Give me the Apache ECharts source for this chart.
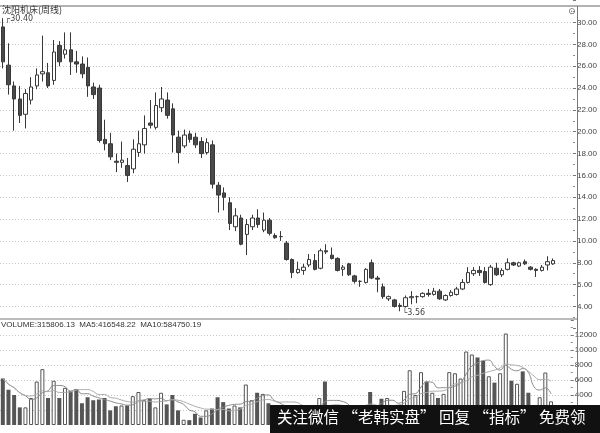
<!DOCTYPE html>
<html><head><meta charset="utf-8">
<script src="https://cdn.jsdelivr.net/npm/echarts@6/dist/echarts.min.js"></script>
<style>html,body{margin:0;padding:0;background:#fff}#c{width:600px;height:433px}</style>
</head><body><div id="c"></div>
<script>
const chartTitle = '沈阳机床(周线)';
const volumeTitle = 'VOLUME:315806.13  MA5:416548.22  MA10:584750.19';
const watermark = '关注微信 “老韩实盘” 回复 “指标” 免费领';
const priceTickLabels = ['4.00','6.00','8.00','10.00','12.00','14.00','16.00','18.00','20.00','22.00','24.00','26.00','28.00','30.00'];
const volumeTickLabels = ['0','2000','4000','6000','8000','10000','12000'];

const opens = [29.6,26.1,24.2,23.0,21.6,22.9,24.2,25.3,25.4,24.7,
  27.9,27.1,27.5,26.4,26.2,25.9,24.1,24.0,19.3,18.9,
  17.3,17.2,16.9,16.6,18.1,18.8,20.8,20.4,22.2,22.9,
  22.1,19.5,18.7,19.8,19.5,19.1,18.1,18.8,15.1,14.4,
  13.5,11.3,12.1,10.6,11.3,12.1,11.0,11.9,10.5,10.4,
  9.8,8.3,7.1,7.3,7.8,8.2,7.5,9.1,8.7,8.4,
  7.4,7.9,6.8,6.3,6.2,8.0,6.6,5.8,4.7,4.6,
  4.1,4.0,4.8,4.9,4.9,5.2,5.1,5.4,4.6,5.0,
  5.1,5.6,6.2,7.0,7.3,7.2,6.0,7.5,6.9,7.4,
  8.0,7.7,8.1,7.6,7.4,7.3,7.8,7.9];
const closes = [26.4,24.3,23.0,21.5,23.5,24.1,25.2,25.5,24.2,27.3,
  26.4,27.5,26.4,26.2,25.3,24.2,23.4,19.2,18.9,17.7,
  17.2,17.4,16.0,18.4,18.9,20.3,20.6,22.4,23.0,21.5,
  19.7,18.1,19.7,19.3,18.8,18.0,19.0,15.2,14.2,14.0,
  11.6,12.3,9.7,11.5,12.1,11.5,11.9,10.7,10.3,10.4,
  8.3,7.1,7.4,7.6,8.3,7.4,9.1,9.0,8.4,7.3,
  7.6,6.9,6.3,6.3,7.4,6.6,6.5,4.9,4.9,4.0,
  4.0,4.8,4.9,4.9,5.2,5.1,5.4,4.7,5.0,5.3,
  5.6,6.2,7.1,7.3,7.1,6.2,7.6,6.9,7.3,8.0,
  7.8,8.0,7.9,7.4,7.3,7.6,8.1,8.2];
const highs = [30.4,28.1,24.6,24.2,23.9,25.0,25.8,28.8,26.3,28.4,
  28.3,29.1,29.1,27.4,26.9,26.8,24.5,24.3,21.1,19.9,
  18.0,19.1,17.6,19.3,20.1,21.5,22.9,23.6,24.1,23.6,
  22.6,20.1,20.2,20.1,19.9,19.5,19.4,19.2,15.4,14.9,
  14.0,13.0,12.4,12.0,12.4,12.9,12.6,12.1,10.7,10.9,
  10.0,8.4,8.1,7.9,8.8,8.8,9.3,9.7,9.4,8.5,
  7.8,8.0,6.9,6.4,7.5,8.3,6.8,6.1,5.0,4.7,
  4.3,5.0,5.4,5.0,5.3,5.6,5.7,5.6,5.1,5.5,
  5.8,6.5,7.6,7.6,7.7,7.6,7.8,8.0,7.5,8.4,
  8.1,8.1,8.3,7.7,7.5,7.8,8.6,8.4];
const lows = [25.8,23.4,20.1,20.8,20.3,22.5,23.9,24.6,24.0,24.3,
  26.0,26.7,25.2,25.4,24.9,23.2,23.0,19.0,18.3,17.4,
  16.3,16.7,15.4,16.2,17.7,18.0,20.3,20.2,21.8,21.2,
  18.1,17.1,18.5,19.0,18.5,17.6,17.9,14.8,12.6,12.8,
  11.0,10.9,9.6,8.7,11.0,11.2,10.8,10.5,10.2,10.0,
  8.2,6.6,7.0,6.9,7.6,7.3,7.4,8.8,8.3,7.2,
  6.8,6.8,6.1,5.8,6.1,6.5,5.3,4.7,4.5,3.9,
  3.56,3.9,4.2,4.3,4.8,4.9,5.0,4.6,4.5,4.9,
  5.0,5.5,6.1,6.8,6.8,6.1,5.9,6.8,6.7,7.3,
  7.7,7.6,7.8,7.3,6.7,7.2,7.3,7.8];
// weekly volume, in the units of the volume axis
const volumes = [6200,4700,4000,2350,2350,3600,5800,7450,3600,5900,
  3600,4950,4550,4800,2900,3700,3300,3400,3600,1950,
  2500,2600,2600,3850,4400,3300,3500,2350,4300,2750,
  4000,1950,700,650,1500,1000,1950,2200,3700,3050,
  2200,2600,2350,5400,3300,4300,4150,2900,1800,1500,
  2400,2600,1800,1600,2200,2300,3600,5800,2500,2200,
  1700,2000,1800,1500,2500,4400,2400,3500,3600,2600,
  2400,4550,7300,4000,7050,5800,4300,3600,4150,7050,
  6900,6200,9800,9400,9000,8550,6500,5650,6900,12200,
  5900,5500,7150,4300,2670,3700,7000,3158];

const n = opens.length;
const weeks = opens.map((_, i) => 'W' + (i + 1));
const candle = opens.map((o, i) => [o, closes[i], lows[i], highs[i]]);
const up = opens.map((o, i) => closes[i] >= o);
function ma(k) {
  return volumes.map((v, i) => {
    const a = volumes.slice(Math.max(0, i - k + 1), i + 1);
    return +(a.reduce((s, x) => s + x, 0) / a.length).toFixed(1);
  });
}
let iMax = 0, iMin = 0;
highs.forEach((h, i) => { if (h > highs[iMax]) iMax = i; });
lows.forEach((l, i) => { if (l < lows[iMin]) iMin = i; });

const FONT = 'Liberation Sans';
const axisCommon = {
  position: 'right',
  axisLine: { show: false },
  axisTick: { show: true, length: 3, lineStyle: { color: '#777' } },
  minorTick: { show: true, splitNumber: 2, length: 2, lineStyle: { color: '#888' } },
  splitLine: { show: true, showMinLine: false, showMaxLine: false, lineStyle: { color: '#c6c6c6', type: [1, 2] } }
};

const chart = echarts.init(document.getElementById('c'));
chart.setOption({
  animation: false,
  backgroundColor: '#fff',
  grid: [
    { left: 0, width: 577, top: 0.7, height: 327.6 },
    { left: 0, width: 577, top: 320, height: 105 }
  ],
  xAxis: [0, 1].map(g => ({
    type: 'category', gridIndex: g, data: weeks, max: n + 2, boundaryGap: true,
    axisLine: { show: false }, axisTick: { show: false }, axisLabel: { show: false }, splitLine: { show: false }
  })),
  yAxis: [
    Object.assign({}, axisCommon, {
      gridIndex: 0, type: 'value', min: 2, max: 32, interval: 2,
      axisLabel: { fontSize: 8, color: '#444', margin: 4, fontFamily: FONT,
        formatter: v => { const s = v.toFixed(2); return priceTickLabels.includes(s) ? s : ''; } }
    }),
    Object.assign({}, axisCommon, {
      gridIndex: 1, type: 'value', min: 0, max: 14000, interval: 2000,
      axisLabel: { fontSize: 8, color: '#444', margin: 4, fontFamily: FONT,
        formatter: v => { const s = String(v); return volumeTickLabels.includes(s) ? s : ''; } }
    })
  ],
  series: [
    {
      type: 'candlestick', xAxisIndex: 0, yAxisIndex: 0, data: candle, barWidth: 4,
      itemStyle: { color: '#fff', color0: '#4a4a4a', borderColor: '#383838', borderColor0: '#383838', borderColorDoji: '#383838', borderWidth: 1 },
      markPoint: {
        symbol: 'circle', symbolSize: 1, itemStyle: { color: 'rgba(0,0,0,0)' },
        label: { show: true, position: 'right', distance: 2, fontSize: 8, color: '#444', fontFamily: 'DejaVu Sans' },
        data: [
          { coord: [iMax, highs[iMax]], value: highs[iMax], label: { formatter: p => '┌' + p.value.toFixed(2), offset: [0, 1] } },
          { coord: [iMin, lows[iMin]], value: lows[iMin], label: { formatter: p => '└' + p.value.toFixed(2), offset: [0, 2] } }
        ]
      }
    },
    {
      type: 'bar', xAxisIndex: 1, yAxisIndex: 1, barWidth: 4,
      data: volumes.map((v, i) => ({ value: v, itemStyle: up[i] ? { color: '#fff', borderColor: '#555', borderWidth: 1 } : { color: '#555' } }))
    },
    { type: 'line', xAxisIndex: 1, yAxisIndex: 1, data: ma(5), symbol: 'none', smooth: true, lineStyle: { color: '#8a8a8a', width: 1 } },
    { type: 'line', xAxisIndex: 1, yAxisIndex: 1, data: ma(10), symbol: 'none', smooth: true, lineStyle: { color: '#aaaaaa', width: 1 } }
  ],
  graphic: [
    { type: 'line', shape: { x1: 0, y1: 6, x2: 600, y2: 6 }, style: { stroke: '#666', lineWidth: 1 }, z: 50 },
    { type: 'line', shape: { x1: 0, y1: 319, x2: 577, y2: 319 }, style: { stroke: '#777', lineWidth: 1 }, z: 50 },
    { type: 'line', shape: { x1: 577.5, y1: 6, x2: 577.5, y2: 433 }, style: { stroke: '#777', lineWidth: 1 }, z: 50 },
    { type: 'text', left: 2, top: 5, style: { text: chartTitle, fontSize: 9, fill: '#333', fontFamily: 'Noto Sans CJK SC' }, z: 50 },
    { type: 'text', left: 568, top: 7, style: { text: '⊙', fontSize: 9, fill: '#666', fontFamily: 'DejaVu Sans' }, z: 50 },
    { type: 'text', left: 1, top: 321, style: { text: volumeTitle, fontSize: 8, fill: '#333', fontFamily: FONT }, z: 50 },
    { type: 'rect', shape: { x: 270, y: 405, width: 330, height: 28 }, style: { fill: '#111' }, z: 100 },
    { type: 'text', left: 277, top: 409, style: { text: watermark, fontSize: 15.5, fill: '#fff', fontFamily: 'Noto Sans CJK SC' }, z: 101 }
  ]
});
</script>
</body></html>
